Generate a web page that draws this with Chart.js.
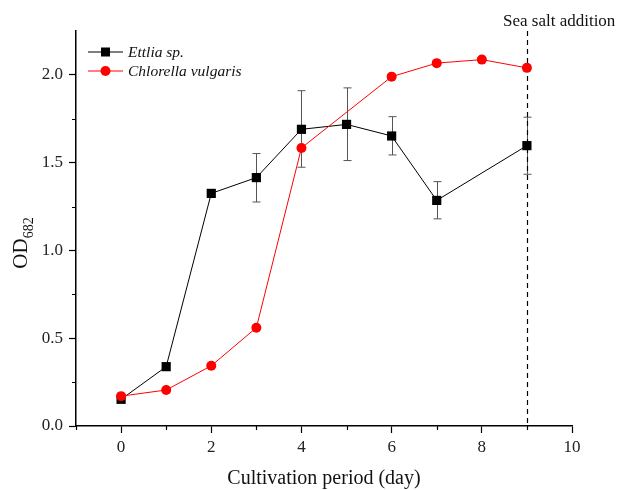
<!DOCTYPE html>
<html>
<head>
<meta charset="utf-8">
<script src="https://cdn.jsdelivr.net/npm/chart.js@4"></script>
<style>
  html, body { margin: 0; padding: 0; background: #fff; }
  #wrap { width: 621px; height: 490px; }
</style>
</head>
<body>
<div id="wrap"><canvas id="growthChart" width="621" height="490"></canvas></div>
<script>
const days = [0, 1, 2, 3, 4, 5, 6, 7, 9];
const ettlia = [0.152, 0.338, 1.325, 1.415, 1.69, 1.718, 1.652, 1.285, 1.597];
const ettliaErrLow = [null, null, null, 1.276, 1.474, 1.512, 1.544, 1.18, 1.434];
const ettliaErrHigh = [null, null, null, 1.552, 1.91, 1.926, 1.762, 1.392, 1.759];

const chlorellaDays = [0, 1, 2, 3, 4, 6, 7, 8, 9];
const chlorella = [0.17, 0.205, 0.343, 0.56, 1.584, 1.99, 2.067, 2.087, 2.04];

const xTicks = [0, 2, 4, 6, 8, 10];
const yTicks = [0, 0.5, 1.0, 1.5, 2.0];
const saltDay = 9;

const SERIF = "'Liberation Serif', 'Times New Roman', serif";

/* error bars, dashed marker line, minor ticks, titles, legend */
const extras = {
  id: "extras",
  beforeDatasetsDraw(chart) {
    const { ctx, scales: { x, y } } = chart;
    ctx.save();
    ctx.strokeStyle = "#555";
    ctx.lineWidth = 1;
    days.forEach((d, i) => {
      if (ettliaErrLow[i] == null) return;
      const px = Math.round(x.getPixelForValue(d)) + 0.5;
      const top = y.getPixelForValue(ettliaErrHigh[i]);
      const bot = y.getPixelForValue(ettliaErrLow[i]);
      ctx.beginPath();
      ctx.moveTo(px, top); ctx.lineTo(px, bot);
      ctx.moveTo(px - 4, top); ctx.lineTo(px + 4, top);
      ctx.moveTo(px - 4, bot); ctx.lineTo(px + 4, bot);
      ctx.stroke();
    });
    // dashed line at salt addition
    const sx = Math.round(x.getPixelForValue(saltDay)) + 0.5;
    ctx.strokeStyle = "#000";
    ctx.lineWidth = 1.2;
    ctx.setLineDash([5, 4]);
    ctx.beginPath();
    ctx.moveTo(sx, chart.chartArea.top);
    ctx.lineTo(sx, chart.chartArea.bottom);
    ctx.stroke();
    ctx.restore();
  },
  afterDraw(chart) {
    const { ctx, chartArea: a, scales: { x, y } } = chart;
    ctx.save();
    ctx.strokeStyle = "#000";
    ctx.lineWidth = 1.2;
    // minor ticks
    ctx.beginPath();
    for (let v = -1; v <= 9; v += 2) {
      const px = Math.round(x.getPixelForValue(v)) + 0.5;
      ctx.moveTo(px, a.bottom); ctx.lineTo(px, a.bottom + 4);
    }
    for (let v = 0.25; v < 2.25; v += 0.5) {
      const py = Math.round(y.getPixelForValue(v)) + 0.5;
      ctx.moveTo(a.left, py); ctx.lineTo(a.left - 4, py);
    }
    ctx.stroke();

    ctx.fillStyle = "#111";
    // x title
    ctx.font = "20px " + SERIF;
    ctx.textAlign = "center";
    ctx.textBaseline = "middle";
    ctx.fillText("Cultivation period (day)", (a.left + a.right) / 2, 479);

    // y title with subscript
    ctx.save();
    ctx.translate(20, 243);
    ctx.rotate(-Math.PI / 2);
    ctx.textAlign = "left";
    ctx.textBaseline = "alphabetic";
    ctx.font = "21px " + SERIF;
    const odW = ctx.measureText("OD").width;
    ctx.font = "14px " + SERIF;
    const subW = ctx.measureText("682").width;
    const start = -(odW + subW) / 2;
    ctx.font = "21px " + SERIF;
    ctx.fillText("OD", start, 7);
    ctx.font = "14px " + SERIF;
    ctx.fillText("682", start + odW, 13);
    ctx.restore();

    // annotation
    ctx.font = "17px " + SERIF;
    ctx.textAlign = "left";
    ctx.textBaseline = "alphabetic";
    ctx.fillText("Sea salt addition", 503, 26);

    // legend
    const rows = [
      { label: "Ettlia sp.", color: "#000", shape: "rect", y: 52 },
      { label: "Chlorella vulgaris", color: "#ff0000", shape: "circle", y: 71 }
    ];
    ctx.font = "italic 15.5px " + SERIF;
    ctx.textBaseline = "middle";
    rows.forEach(r => {
      ctx.strokeStyle = r.color;
      ctx.fillStyle = r.color;
      ctx.lineWidth = 1;
      ctx.beginPath();
      ctx.moveTo(88, r.y); ctx.lineTo(123, r.y);
      ctx.stroke();
      if (r.shape === "rect") {
        ctx.fillRect(101, r.y - 4.5, 9, 9);
      } else {
        ctx.beginPath();
        ctx.arc(105.5, r.y, 5, 0, Math.PI * 2);
        ctx.fill();
      }
      ctx.fillStyle = "#111";
      ctx.fillText(r.label, 128, r.y + 1);
    });
    ctx.restore();
  }
};

new Chart(document.getElementById("growthChart"), {
  type: "line",
  data: {
    datasets: [
      {
        label: "Ettlia sp.",
        data: days.map((d, i) => ({ x: d, y: ettlia[i] })),
        borderColor: "#000",
        backgroundColor: "#000",
        borderWidth: 1,
        pointStyle: "rect",
        pointRadius: 6.5,
        pointBorderWidth: 0,
        order: 1
      },
      {
        label: "Chlorella vulgaris",
        data: chlorellaDays.map((d, i) => ({ x: d, y: chlorella[i] })),
        borderColor: "#ff0000",
        backgroundColor: "#ff0000",
        borderWidth: 1,
        pointStyle: "circle",
        pointRadius: 5,
        pointBorderWidth: 0,
        order: 0
      }
    ]
  },
  options: {
    responsive: false,
    animation: false,
    layout: { padding: { top: 31, right: 49, left: 0, bottom: 0 } },
    plugins: { legend: { display: false }, tooltip: { enabled: false } },
    scales: {
      x: {
        type: "linear",
        min: -1,
        max: 10,
        afterBuildTicks: s => { s.ticks = xTicks.map(v => ({ value: v })); },
        afterFit: s => { s.height = 64; },
        grid: { drawOnChartArea: false, tickLength: 7, color: "#000", tickWidth: 1.2 },
        border: { display: true, color: "#000", width: 1.5 },
        ticks: {
          padding: 4,
          color: "#222",
          font: { family: SERIF, size: 17 },
          maxRotation: 0,
          callback: v => String(v)
        }
      },
      y: {
        type: "linear",
        min: 0,
        max: 2.25,
        afterBuildTicks: s => { s.ticks = yTicks.map(v => ({ value: v })); },
        afterFit: s => { s.width = 76; },
        grid: { drawOnChartArea: false, tickLength: 7, color: "#000", tickWidth: 1.2 },
        border: { display: true, color: "#000", width: 1.5 },
        ticks: {
          padding: 6,
          color: "#222",
          font: { family: SERIF, size: 17 },
          callback: v => Number(v).toFixed(1)
        }
      }
    }
  },
  plugins: [extras]
});
</script>
</body>
</html>
